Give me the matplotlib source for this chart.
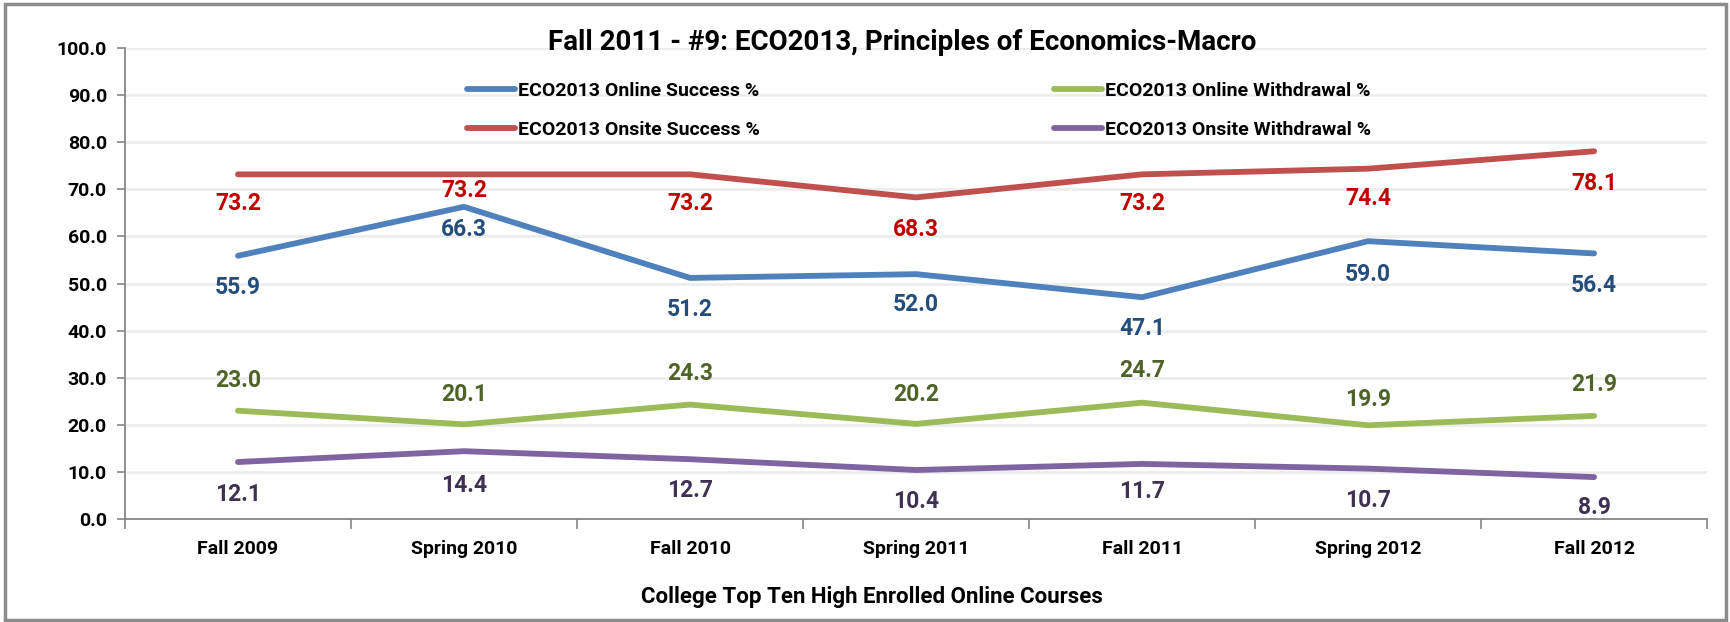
import matplotlib
matplotlib.use('Agg')
import matplotlib.pyplot as plt
from matplotlib.patches import Rectangle

plt.rcParams['font.family'] = ['Roboto', 'DejaVu Sans']
plt.rcParams['font.weight'] = 'bold'

# data
terms = ['Fall 2009', 'Spring 2010', 'Fall 2010', 'Spring 2011',
         'Fall 2011', 'Spring 2012', 'Fall 2012']
online_success = [55.9, 66.3, 51.2, 52.0, 47.1, 59.0, 56.4]
onsite_success = [73.2, 73.2, 73.2, 68.3, 73.2, 74.4, 78.1]
online_withdrawal = [23.0, 20.1, 24.3, 20.2, 24.7, 19.9, 21.9]
onsite_withdrawal = [12.1, 14.4, 12.7, 10.4, 11.7, 10.7, 8.9]
yticks = [0, 10, 20, 30, 40, 50, 60, 70, 80, 90, 100]

# series: (values, label, line colour, label colour, label offsets in data units)
series = [
    (online_success, 'ECO2013 Online Success %', '#4F81BD', '#254D7C',
     [-6.8, -4.9, -6.7, -6.4, -6.6, -7.1, -6.8]),
    (onsite_success, 'ECO2013 Onsite Success %', '#C0504D', '#C00000',
     [-6.2, -3.4, -6.2, -6.9, -6.2, -6.4, -6.9]),
    (online_withdrawal, 'ECO2013 Online Withdrawal %', '#9BBB59', '#4F6228',
     [6.4, 6.3, 6.5, 6.2, 6.8, 5.4, 6.6]),
    (onsite_withdrawal, 'ECO2013 Onsite Withdrawal %', '#8064A2', '#3F3151',
     [-6.9, -7.3, -6.6, -6.6, -5.8, -6.7, -6.5]),
]

fig = plt.figure(figsize=(17.31, 6.22), dpi=100)
ax = fig.add_axes([0.0722, 0.1656, 0.914, 0.757])

x = list(range(len(terms)))
for vals, name, col, lcol, offs in series:
    ax.plot(x, vals, color=col, lw=4.2, solid_capstyle='round',
            solid_joinstyle='round', label=name, zorder=3)
    for xi, v, o in zip(x, vals, offs):
        ax.text(xi, v + o, f'{v:.1f}', color=lcol, fontsize=16.5,
                fontweight='bold', ha='center', va='center', zorder=4)

ax.set_xlim(-0.5, len(terms) - 0.5)
ax.set_ylim(0, 100)
ax.set_yticks(yticks)
ax.set_yticklabels([f'{t:.1f}' for t in yticks], fontsize=14, fontweight='bold')
ax.set_xticks(x)
ax.set_xticklabels(terms, fontsize=14, fontweight='bold')
ax.set_xticks([i + 0.5 for i in range(-1, len(terms))], minor=True)
ax.tick_params(axis='x', which='major', length=0, pad=15)
ax.tick_params(axis='x', which='minor', length=7, color='#868686', width=1.2)
ax.tick_params(axis='y', length=6, color='#868686', width=1.2, pad=7)
ax.grid(axis='y', color='#EDEDED', lw=2, zorder=0)
for s in ['top', 'right']:
    ax.spines[s].set_visible(False)
for s in ['left', 'bottom']:
    ax.spines[s].set_color('#868686')
    ax.spines[s].set_linewidth(1.3)

ax.set_xlabel('College Top Ten High Enrolled Online Courses', fontsize=16,
              fontweight='bold')
ax.xaxis.set_label_coords(0.472, -0.142)

fig.text(0.521, 0.932, 'Fall 2011 - #9: ECO2013, Principles of Economics-Macro',
         fontsize=20, fontweight='bold', ha='center', va='center')

leg = ax.legend(ncol=2, loc='upper left', bbox_to_anchor=(0.205, 0.965),
                frameon=False, fontsize=14, handlelength=2.5,
                handletextpad=0.15, columnspacing=15.1, labelspacing=1.05)
for t in leg.get_texts():
    t.set_fontweight('bold')

fig.patches.append(Rectangle((0.003, 0.004), 0.994, 0.99, transform=fig.transFigure,
                             fill=False, ec='#8C8C8C', lw=2.5))

fig.savefig('out.png', dpi=100)
